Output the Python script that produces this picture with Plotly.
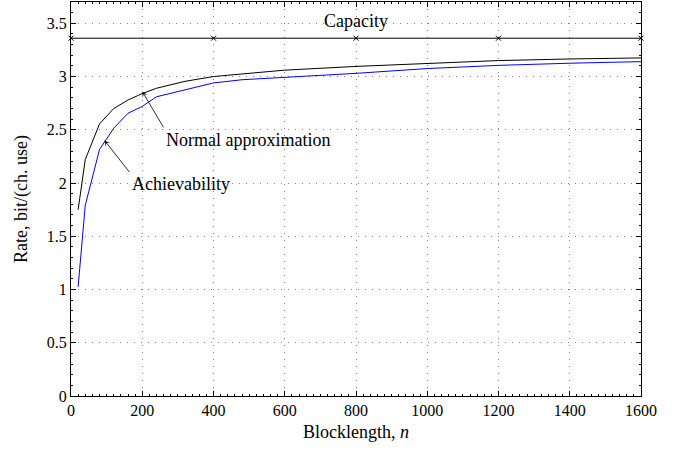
import plotly.graph_objects as go

# Data
n_norm = [20, 40, 80, 120, 160, 200, 240, 320, 400, 600, 800, 1000, 1200, 1400, 1600]
rate_norm = [1.75, 2.22, 2.555, 2.70, 2.78, 2.84, 2.89, 2.955, 3.0, 3.06, 3.095, 3.12, 3.15, 3.165, 3.175]

n_ach = [20, 40, 80, 120, 160, 200, 240, 320, 400, 480, 600, 800, 1000, 1200, 1400, 1600]
rate_ach = [1.025, 1.79, 2.315, 2.515, 2.655, 2.72, 2.81, 2.875, 2.94, 2.97, 2.99, 3.03, 3.075, 3.105, 3.125, 3.14]

n_cap = [0, 400, 800, 1200, 1600]
capacity = 3.36
rate_cap = [capacity] * len(n_cap)

x_ticks = [0, 200, 400, 600, 800, 1000, 1200, 1400, 1600]
y_ticks = [0, 0.5, 1, 1.5, 2, 2.5, 3, 3.5]
y_tick_labels = ["0", "0.5", "1", "1.5", "2", "2.5", "3", "3.5"]

FONT = "Liberation Serif"

fig = go.Figure()
fig.add_trace(go.Scatter(x=n_cap, y=rate_cap, mode="lines+markers",
                         line=dict(color="black", width=1),
                         marker=dict(symbol="x-thin", size=5, line=dict(color="black", width=1)),
                         showlegend=False, cliponaxis=False))
fig.add_trace(go.Scatter(x=n_norm, y=rate_norm, mode="lines",
                         line=dict(color="black", width=1), showlegend=False))
fig.add_trace(go.Scatter(x=n_ach, y=rate_ach, mode="lines",
                         line=dict(color="rgb(0,0,255)", width=1), showlegend=False))

txt = dict(family=FONT, size=18, color="black")
ann = [
    dict(x=800, y=3.525, text="Capacity", showarrow=False, xref="x", yref="y", font=txt),
    dict(x=262, y=2.40, text="Normal approximation", showarrow=False, xanchor="left",
         xref="x", yref="y", font=txt),
    dict(x=167, y=1.99, text="Achievability", showarrow=False, xanchor="left",
         xref="x", yref="y", font=txt),
    dict(x=200, y=2.86, ax=262, ay=2.51, axref="x", ayref="y", xref="x", yref="y",
         text="", showarrow=True, arrowhead=3, arrowsize=1.2, arrowwidth=0.8, arrowcolor="black"),
    dict(x=94, y=2.40, ax=167, ay=2.09, axref="x", ayref="y", xref="x", yref="y",
         text="", showarrow=True, arrowhead=3, arrowsize=1.2, arrowwidth=0.8, arrowcolor="black"),
]

axis_common = dict(
    showline=True, linecolor="black", linewidth=1, mirror="allticks",
    ticks="inside", ticklen=5, tickcolor="black", tickwidth=1,
    showgrid=True, gridcolor="rgb(130,130,130)", griddash="1px,6px", gridwidth=1,
    zeroline=False, tickfont=dict(family=FONT, size=16, color="black"),
)

fig.update_layout(
    width=683, height=449,
    margin=dict(l=71, r=42, t=2, b=53),
    paper_bgcolor="white", plot_bgcolor="white",
    annotations=ann,
    xaxis=dict(range=[0, 1600], tickvals=x_ticks, ticktext=[str(v) for v in x_ticks],
               title=dict(text="Blocklength, <i>n</i>", font=dict(family=FONT, size=18, color="black"),
                          standoff=7),
               minor=dict(dtick=20, ticks="inside", ticklen=2, tickcolor="black", showgrid=False),
               **axis_common),
    yaxis=dict(range=[0, 3.7], tickvals=y_ticks, ticktext=y_tick_labels,
               title=dict(text="Rate, bit/(ch. use)", font=dict(family=FONT, size=18, color="black"),
                          standoff=14),
               minor=dict(dtick=0.1, ticks="inside", ticklen=2, tickcolor="black", showgrid=False),
               **axis_common),
)

fig.write_html("out.html", config={"displayModeBar": False},
               post_script="document.body.style.margin='0';document.body.style.padding='0';")
